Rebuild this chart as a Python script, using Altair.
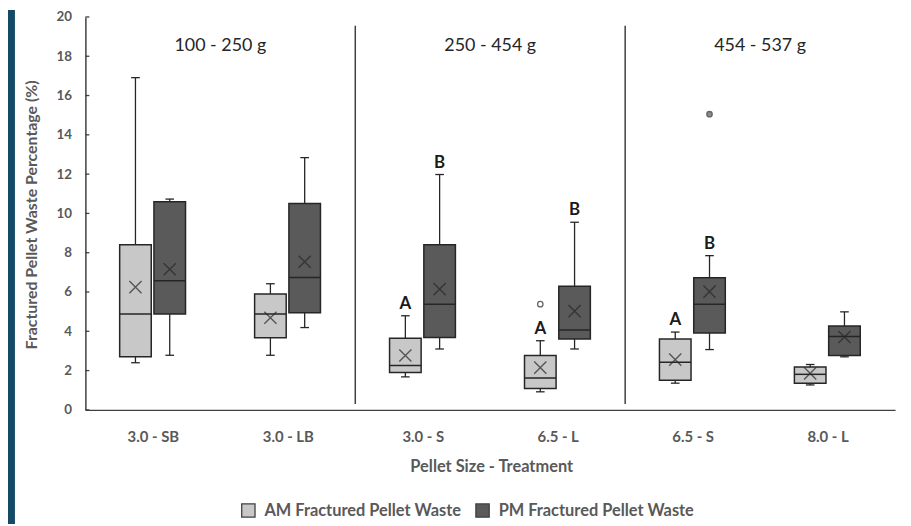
import json
import altair as alt
import pandas as pd

# ---------------- data ----------------
categories = ["3.0 - SB", "3.0 - LB", "3.0 - S", "6.5 - L", "6.5 - S", "8.0 - L"]
groups = ["100 - 250 g", "250 - 454 g", "454 - 537 g"]
group_sizes = [2, 2, 2]
series = ["AM Fractured Pellet Waste", "PM Fractured Pellet Waste"]

am_min = [2.40, 2.78, 1.68, 0.92, 1.36, 1.27]
am_q1 = [2.70, 3.67, 1.90, 1.09, 1.51, 1.36]
am_med = [4.88, 4.88, 2.26, 1.62, 2.43, 1.81]
am_q3 = [8.41, 5.90, 3.65, 2.77, 3.61, 2.18]
am_max = [16.91, 6.42, 4.79, 3.52, 3.96, 2.31]
am_mean = [6.25, 4.69, 2.77, 2.15, 2.56, 1.86]
am_letters = ["", "", "A", "A", "A", ""]

pm_min = [2.78, 4.19, 3.10, 3.10, 3.07, 2.70]
pm_q1 = [4.88, 4.94, 3.69, 3.61, 3.91, 2.77]
pm_med = [6.57, 6.74, 5.38, 4.06, 5.38, 3.74]
pm_q3 = [10.60, 10.51, 8.41, 6.29, 6.72, 4.27]
pm_max = [10.73, 12.84, 11.98, 9.55, 7.85, 4.99]
pm_mean = [7.16, 7.54, 6.15, 5.03, 6.02, 3.71]
pm_letters = ["", "", "B", "B", "B", ""]

outlier_cat = ["6.5 - L", "6.5 - S"]
outlier_series = ["AM Fractured Pellet Waste", "PM Fractured Pellet Waste"]
outlier_val = [5.38, 15.05]

y_ticks = list(range(0, 21, 2))

# ---------------- layout / style ----------------
W, H = 816, 396
PAD = {"left": 78, "top": 7, "right": 8, "bottom": 115}
FONT = "Lato"
GRAY = "#595959"
DARK = "#262626"
FILL = {series[0]: "#c8c8c8", series[1]: "#5a5a5a"}
SER_OFF = {series[0]: -0.129, series[1]: 0.125}
HALF_BOX = 0.117
HALF_CAP = 0.032
title_nudge_px = [4, 1, 14]

rows = []
stats = {
    series[0]: (am_min, am_q1, am_med, am_q3, am_max, am_mean, am_letters),
    series[1]: (pm_min, pm_q1, pm_med, pm_q3, pm_max, pm_mean, pm_letters),
}
for i, c in enumerate(categories):
    for s in series:
        mn, q1, md, q3, mx, me, lt = (a[i] for a in stats[s])
        xc = i + SER_OFF[s]
        rows.append(dict(cat=c, series=s, xc=xc, xl=xc - HALF_BOX, xr=xc + HALF_BOX,
                         cl=xc - HALF_CAP, cr=xc + HALF_CAP,
                         lo=mn, q1=q1, med=md, q3=q3, hi=mx, mean=me, letter=lt))
df = pd.DataFrame(rows)

out_df = pd.DataFrame({
    "series": outlier_series,
    "val": outlier_val,
    "xc": [categories.index(c) + SER_OFF[s] for c, s in zip(outlier_cat, outlier_series)],
    "fill": [FILL[s] if s == series[1] else "white" for s in outlier_series],
})

bounds, centers, start = [], [], 0
for n in group_sizes:
    centers.append(start + (n - 1) / 2)
    start += n
    bounds.append(start - 0.5)
sep_df = pd.DataFrame({"x": bounds[:-1], "y0": [0.3] * (len(bounds) - 1), "y1": [19.55] * (len(bounds) - 1)})
grp_df = pd.DataFrame({"name": groups, "x": centers, "nudge": title_nudge_px, "y": [18.5] * len(groups)})
tick_df = pd.DataFrame({"v": y_ticks})

xscale = alt.Scale(domain=[-0.5, len(categories) - 0.5], nice=False, zero=False)
yscale = alt.Scale(domain=[0, 20], nice=False)

label_expr = json.dumps(categories) + "[round(datum.value)]"
x_axis = alt.Axis(values=list(range(len(categories))), labelExpr=label_expr, title="Pellet Size - Treatment",
                  grid=False, ticks=False, tickSize=0, domainColor="#404040", domainWidth=1.5,
                  labelFont=FONT, labelFontSize=15, labelFontWeight="bold", labelColor=GRAY, labelPadding=27,
                  labelBaseline="middle",
                  titleFont=FONT, titleFontSize=16.5, titleFontWeight="bold", titleColor=GRAY,
                  titleX=409, titleY=57, titleBaseline="middle", titleAlign="center")
y_axis = alt.Axis(values=y_ticks, title="Fractured Pellet Waste Percentage (%)", grid=False,
                  ticks=False, tickSize=0, domainColor="#404040", domainWidth=1.5,
                  labelFont=FONT, labelFontSize=13.5, labelFontWeight="bold", labelColor=GRAY, labelPadding=14,
                  titleFont=FONT, titleFontSize=16, titleFontWeight="bold", titleColor=GRAY,
                  titleX=-54, titleY=H / 2 + 1, titleAngle=270, titleBaseline="middle", titleAlign="center")


def X(f):
    return alt.X(f, type="quantitative", scale=xscale, axis=x_axis)


def Y(f):
    return alt.Y(f, type="quantitative", scale=yscale, axis=y_axis)


color = alt.Color("series:N", scale=alt.Scale(domain=series, range=[FILL[s] for s in series]),
                  legend=alt.Legend(orient="none", legendX=156, legendY=489, direction="horizontal", title=None,
                                    symbolType="square", symbolSize=180, symbolStrokeColor="#404040",
                                    symbolStrokeWidth=1.3, labelFont=FONT, labelFontSize=16.5,
                                    labelFontWeight="bold", labelColor=GRAY, labelOffset=8, labelLimit=0,
                                    columnPadding=11, padding=0))

base = alt.Chart(df)

whisk = base.mark_rule(color=DARK, strokeWidth=1.3).encode(x=X("xc"), y=Y("lo"), y2="hi")
caps_lo = base.mark_rule(color=DARK, strokeWidth=1.3).encode(x=X("cl"), x2="cr", y=Y("lo"))
caps_hi = base.mark_rule(color=DARK, strokeWidth=1.3).encode(x=X("cl"), x2="cr", y=Y("hi"))
box = base.mark_rect(stroke=DARK, strokeWidth=1.5).encode(x=X("xl"), x2="xr", y=Y("q1"), y2="q3", color=color)
median = base.mark_rule(color=DARK, strokeWidth=1.5).encode(x=X("xl"), x2="xr", y=Y("med"))
mean = base.mark_point(shape="M-1,-1L1,1M1,-1L-1,1", size=150, stroke=DARK, strokeWidth=1.4,
                       filled=False).encode(x=X("xc"), y=Y("mean"))
letters = base.mark_text(font=FONT, fontSize=17, fontWeight="bold", color="#1a1a1a", dy=-12,
                         baseline="middle").encode(x=X("xc"), y=Y("hi"), text="letter:N")

outl = alt.Chart(out_df).mark_point(shape="circle", size=30, stroke=DARK, strokeWidth=1.3, filled=False).encode(
    x=X("xc"), y=Y("val"), fill=alt.Fill("fill:N", scale=None))

seps = alt.Chart(sep_df).mark_rule(color="#404040", strokeWidth=1.5).encode(x=X("x"), y=Y("y0"), y2="y1")
titles = alt.Chart(grp_df).mark_text(font=FONT, fontSize=18, color="#262626", baseline="middle").encode(
    x=X("x"), y=Y("y"), text="name:N", xOffset=alt.XOffset("nudge:Q", scale=None))
ticks = alt.Chart(tick_df).mark_rule(color="#404040", strokeWidth=1.3).encode(
    y=Y("v"), x=alt.value(0), x2=alt.value(4))

strip = alt.Chart(pd.DataFrame({"k": [0]})).mark_rect(color="#154a66").encode(
    x=alt.value(-PAD["left"]), x2=alt.value(-PAD["left"] + 7), y=alt.value(-PAD["top"]),
    y2=alt.value(H + PAD["bottom"]))

chart = alt.layer(strip, seps, ticks, whisk, caps_lo, caps_hi, box, median, mean, outl, letters, titles).properties(
    width=W, height=H, padding=PAD, autosize=alt.AutoSizeParams(type="none"), background="white"
).configure_view(stroke=None)

chart.save("out.html", embed_options={"renderer": "svg", "actions": False})
